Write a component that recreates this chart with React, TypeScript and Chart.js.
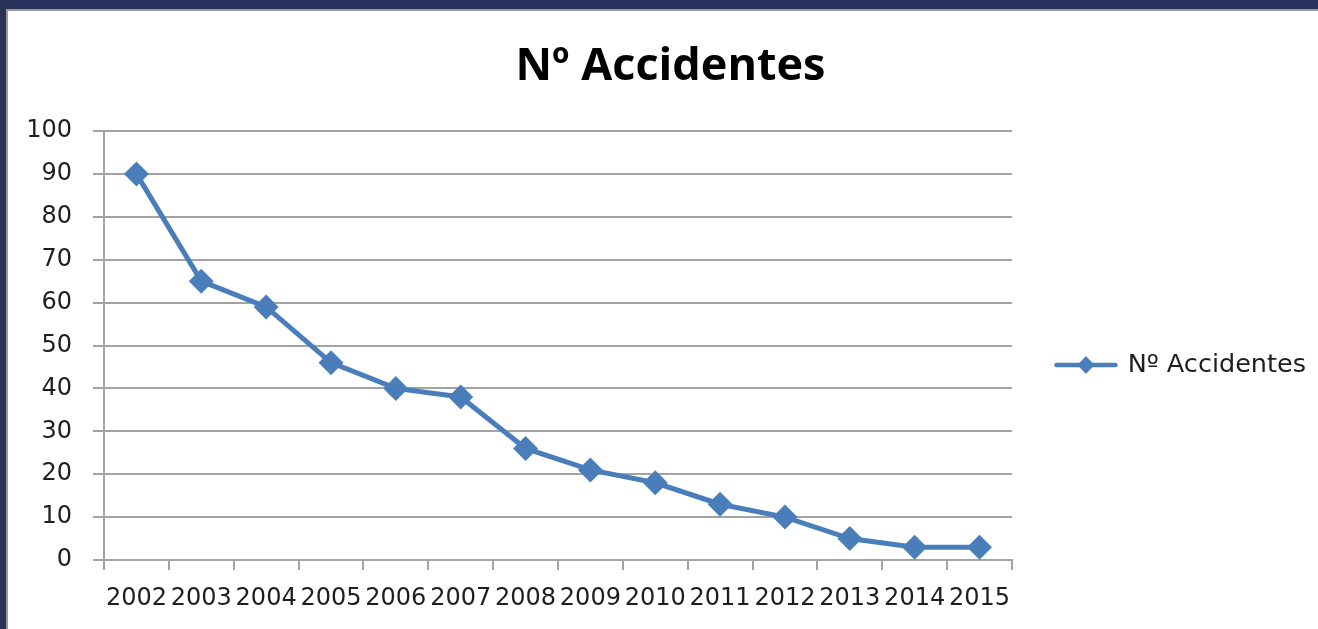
import React, { useEffect, useRef } from 'react';
import { Chart, registerables } from 'chart.js';

Chart.register(...registerables);

const CHART_TITLE = 'Nº Accidentes';
const SERIES_LABEL = 'Nº Accidentes';
const YEARS = ['2002', '2003', '2004', '2005', '2006', '2007', '2008', '2009', '2010', '2011', '2012', '2013', '2014', '2015'];
const ACCIDENTS = [90, 65, 59, 46, 40, 38, 26, 21, 18, 13, 10, 5, 3, 3];
const Y_MIN = 0;
const Y_MAX = 100;
const Y_STEP = 10;

const LINE_COLOR = '#4a7ebb';
const GRID_COLOR = '#a3a3a3';
const TEXT_COLOR = '#1e1e1e';
const TICK_FONT = { family: "'DejaVu Sans'", size: 24 };
const LEGEND_FONT = { family: "'DejaVu Sans'", size: 25.5 };

function makeLegendMarker(): HTMLCanvasElement {
  const c = document.createElement('canvas');
  c.width = 64;
  c.height = 22;
  const ctx = c.getContext('2d');
  if (ctx) {
    ctx.strokeStyle = LINE_COLOR;
    ctx.lineWidth = 4.5;
    ctx.lineCap = 'round';
    ctx.beginPath();
    ctx.moveTo(2.5, 11);
    ctx.lineTo(61.5, 11);
    ctx.stroke();
    ctx.fillStyle = LINE_COLOR;
    ctx.beginPath();
    ctx.moveTo(32, 2);
    ctx.lineTo(40.5, 11);
    ctx.lineTo(32, 20);
    ctx.lineTo(23.5, 11);
    ctx.closePath();
    ctx.fill();
  }
  return c;
}

export default function App() {
  const canvasRef = useRef<HTMLCanvasElement | null>(null);

  useEffect(() => {
    const canvas = canvasRef.current;
    if (!canvas) return;
    const marker = makeLegendMarker();
    const chart = new Chart(canvas, {
      type: 'line',
      data: {
        labels: YEARS,
        datasets: [
          {
            label: SERIES_LABEL,
            data: ACCIDENTS,
            borderColor: LINE_COLOR,
            backgroundColor: LINE_COLOR,
            borderWidth: 5,
            tension: 0,
            pointStyle: 'rectRot',
            pointRadius: 12.5,
            pointBorderWidth: 0,
            pointBackgroundColor: LINE_COLOR,
            clip: false,
          },
        ],
      },
      options: {
        responsive: false,
        animation: false,
        events: [],
        layout: { padding: { left: 17, right: 2, top: 0, bottom: 0 } },
        plugins: {
          tooltip: { enabled: false },
          title: {
            display: true,
            text: CHART_TITLE,
            color: '#000000',
            font: { family: "'Open Sans'", size: 45, weight: 'bold', lineHeight: 1.2 },
            padding: { top: 29, bottom: 37 },
          },
          legend: {
            display: true,
            position: 'right',
            align: 'center',
            title: { display: true, text: '', font: { size: 10 }, padding: { top: 78, bottom: 0 } },
            labels: {
              usePointStyle: true,
              pointStyle: marker,
              pointStyleWidth: 58,
              padding: 45,
              color: TEXT_COLOR,
              font: LEGEND_FONT,
            },
          },
        },
        scales: {
          x: {
            offset: true,
            ticks: {
              autoSkip: false,
              maxRotation: 0,
              minRotation: 0,
              padding: 14,
              color: TEXT_COLOR,
              font: TICK_FONT,
            },
            grid: {
              offset: true,
              drawOnChartArea: false,
              drawTicks: true,
              tickLength: 10,
              color: GRID_COLOR,
              lineWidth: 2,
            },
            border: { color: GRID_COLOR, width: 2 },
            afterFit: (s: any) => {
              s.height = 69;
            },
          },
          y: {
            min: Y_MIN,
            max: Y_MAX,
            ticks: {
              stepSize: Y_STEP,
              padding: 21,
              color: TEXT_COLOR,
              font: TICK_FONT,
            },
            grid: {
              color: GRID_COLOR,
              lineWidth: 2,
              drawTicks: true,
              tickLength: 11,
            },
            border: { color: GRID_COLOR, width: 2 },
            afterFit: (s: any) => {
              s.width = 79;
            },
          },
        },
      },
    });
    return () => chart.destroy();
  }, []);

  return (
    <div
      style={{
        position: 'fixed',
        left: 0,
        top: 0,
        width: 1318,
        height: 629,
        background: '#2b3259',
        overflow: 'hidden',
      }}
    >
      <div
        style={{
          position: 'absolute',
          left: 6,
          top: 9,
          width: 1312,
          height: 620,
          background: '#ffffff',
          borderTop: '2px solid #9a9a9a',
          borderLeft: '2px solid #9a9a9a',
          boxSizing: 'border-box',
        }}
      />
      <canvas
        ref={canvasRef}
        width={1310}
        height={618}
        style={{ position: 'absolute', left: 8, top: 11, width: 1310, height: 618 }}
      />
    </div>
  );
}
